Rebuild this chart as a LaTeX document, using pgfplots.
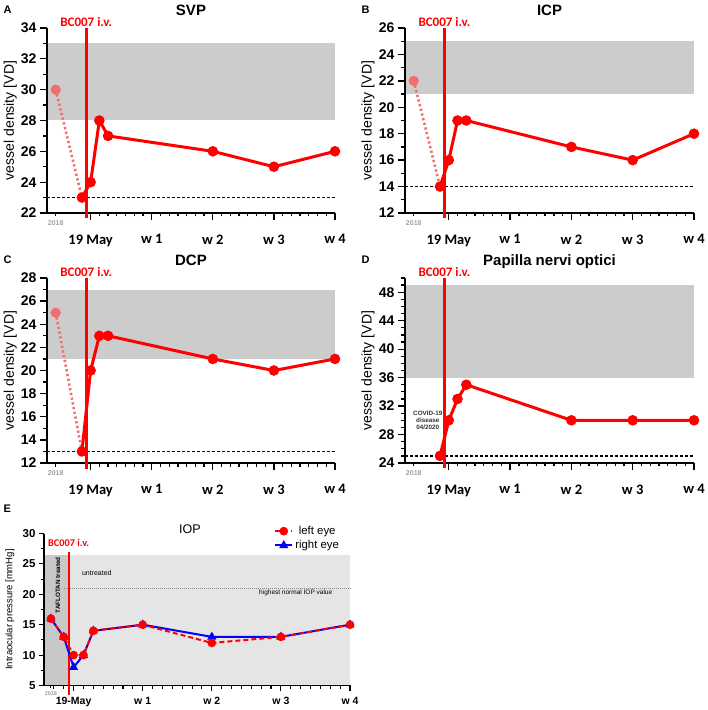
\documentclass[border=0pt]{standalone}
\usepackage{fontspec}
\setmainfont{Liberation Sans}
\newfontfamily\carlito{Carlito}
\usepackage{pgfplots}
\pgfplotsset{compat=1.18}
\definecolor{band}{RGB}{204,204,204}
\definecolor{lightband}{RGB}{229,229,229}
\definecolor{darkband}{RGB}{200,200,200}
\definecolor{oldred}{RGB}{240,110,110}
\definecolor{tickgray}{RGB}{160,160,160}

\tikzset{bclabel/.style={text=red, font=\carlito\bfseries\fontsize{13}{13}\selectfont, anchor=base, yshift=1.5pt},
  yrlabel/.style={text=tickgray, font=\bfseries\fontsize{7}{7}\selectfont, anchor=north, yshift=-4pt}}
\pgfplotsset{
  vdaxis/.style={
    scale only axis, height=185pt,
    xmin=-5, xmax=28,
    axis x line*=bottom, axis y line*=left,
    axis line style={line width=1.6pt, black},
    clip=false,
    tick align=outside, major tick length=7pt, minor tick length=3.5pt,
    tick style={black, line width=1.3pt},
    xtick={0,7,14,21,28},
    xticklabels={19 May,w 1,w 2,w 3,w 4},
    minor xtick={1,...,27},
    x tick label style={font=\carlito\bfseries\fontsize{14.5}{15}\selectfont, yshift=-11pt},
    y tick label style={font=\bfseries\fontsize{14}{14}\selectfont},
    /pgf/number format/assume math mode=true,
    ylabel={vessel density [VD]},
    ylabel style={font=\fontsize{14}{14}\selectfont, at={(axis description cs:-0.128,0.5)}, anchor=center},
    title style={font=\bfseries\fontsize{15}{15}\selectfont, at={(axis description cs:0.5,1)}, anchor=base, yshift=6pt},
  },
  dat/.style={red, line width=3pt, mark=*, mark size=3.7pt, mark options={solid}},
  old/.style={oldred, line width=2.6pt, dash pattern=on 2.2pt off 2.6pt, mark=*, mark size=3.7pt, mark indices={1}, mark options={solid, fill=oldred, draw=oldred}},
  ivline/.style={red, line width=2.8pt, forget plot},
  tk/.style={black, line width=1.3pt, forget plot, mark=none},
  tkE/.style={black, line width=1.1pt, forget plot, mark=none},
}
% tick marks drawn in data units:
% #1 ymin, #2 end y of major x ticks, #3 end y of minor x ticks,
% #4 major y ticks, #5 minor y ticks, #6 end x of major y ticks, #7 end x of minor y ticks
\newcommand{\vdticks}[7]{%
  \pgfplotsinvokeforeach{1,...,27}{\addplot[tk] coordinates {(##1,#1) (##1,#3)};}
  \pgfplotsinvokeforeach{0,7,14,21,28}{\addplot[tk] coordinates {(##1,#1) (##1,#2)};}
  \addplot[tk] coordinates {(-4,#1) (-4,#3)};
  \pgfplotsinvokeforeach{#4}{\addplot[tk] coordinates {(-5,##1) (#6,##1)};}
  \pgfplotsinvokeforeach{#5}{\addplot[tk] coordinates {(-5,##1) (#7,##1)};}
}

\begin{document}
\begin{tikzpicture}
\useasboundingbox (0,0) rectangle (708pt,710pt);

% panel letters
\node[anchor=base west, font=\bfseries\fontsize{11}{11}\selectfont, inner sep=0] at (3.5pt,696pt) {A};
\node[anchor=base west, font=\bfseries\fontsize{11}{11}\selectfont, inner sep=0] at (361.5pt,696pt) {B};
\node[anchor=base west, font=\bfseries\fontsize{11}{11}\selectfont, inner sep=0] at (3.5pt,446.7pt) {C};
\node[anchor=base west, font=\bfseries\fontsize{11}{11}\selectfont, inner sep=0] at (361.5pt,446.7pt) {D};
\node[anchor=base west, font=\bfseries\fontsize{11}{11}\selectfont, inner sep=0] at (3.5pt,197.3pt) {E};

% ---------------- A: SVP
\begin{axis}[vdaxis, at={(47pt,497pt)}, anchor=south west, width=288pt,
  ymin=22, ymax=34, ytick={22,24,...,34}, minor ytick={23,25,...,33}, title={SVP}]
\addplot[fill=band, draw=none, forget plot] coordinates {(-4.85,28) (28,28) (28,33) (-4.85,33)} -- cycle;
\addplot[black, line width=1.3pt, dash pattern=on 3pt off 2pt, forget plot] coordinates {(-5,23) (28,23)};
\vdticks{22}{21.546}{21.773}{22,24,...,34}{23,25,...,33}{-5.802}{-5.401}
\addplot[old] coordinates {(-4,30) (-1,23)};
\addplot[dat] coordinates {(-1,23) (0,24) (1,28) (2,27) (14,26) (21,25) (28,26)};
\addplot[ivline] coordinates {(-0.5,21.7) (-0.5,34)};
\node[bclabel] at (axis cs:-0.5,34) {BC007 i.v.};
\node[yrlabel] at (axis cs:-4,22) {2018};
\end{axis}

% ---------------- B: ICP
\begin{axis}[vdaxis, at={(405pt,497pt)}, anchor=south west, width=289pt,
  ymin=12, ymax=26, ytick={12,14,...,26}, minor ytick={13,15,...,25}, title={ICP}]
\addplot[fill=band, draw=none, forget plot] coordinates {(-4.85,21) (28,21) (28,25) (-4.85,25)} -- cycle;
\addplot[black, line width=1.3pt, dash pattern=on 3pt off 2pt, forget plot] coordinates {(-5,14) (28,14)};
\vdticks{12}{11.470}{11.735}{12,14,...,26}{13,15,...,25}{-5.799}{-5.400}
\addplot[old] coordinates {(-4,22) (-1,14)};
\addplot[dat] coordinates {(-1,14) (0,16) (1,19) (2,19) (14,17) (21,16) (28,18)};
\addplot[ivline] coordinates {(-0.5,11.62) (-0.5,26)};
\node[bclabel] at (axis cs:-0.5,26) {BC007 i.v.};
\node[yrlabel] at (axis cs:-4,12) {2018};
\end{axis}

% ---------------- C: DCP
\begin{axis}[vdaxis, at={(47pt,247pt)}, anchor=south west, width=288pt,
  ymin=12, ymax=28, ytick={12,14,...,28}, minor ytick={13,15,...,27}, title={DCP}]
\addplot[fill=band, draw=none, forget plot] coordinates {(-4.85,21) (28,21) (28,27) (-4.85,27)} -- cycle;
\addplot[black, line width=1.3pt, dash pattern=on 3pt off 2pt, forget plot] coordinates {(-5,13) (28,13)};
\vdticks{12}{11.395}{11.697}{12,14,...,28}{13,15,...,27}{-5.802}{-5.401}
\addplot[old] coordinates {(-4,25) (-1,13)};
\addplot[dat] coordinates {(-1,13) (0,20) (1,23) (2,23) (14,21) (21,20) (28,21)};
\addplot[ivline] coordinates {(-0.5,11.5) (-0.5,28)};
\node[bclabel] at (axis cs:-0.5,28) {BC007 i.v.};
\node[yrlabel] at (axis cs:-4,12) {2018};
\end{axis}

% ---------------- D: Papilla nervi optici
\begin{axis}[vdaxis, at={(405pt,247pt)}, anchor=south west, width=289pt,
  ymin=24, ymax=50, ytick={24,28,...,48}, minor ytick={24,...,50}, title={Papilla nervi optici}]
\addplot[fill=band, draw=none, forget plot] coordinates {(-4.85,36) (28,36) (28,49) (-4.85,49)} -- cycle;
\addplot[black, line width=1.3pt, dash pattern=on 3pt off 2pt, forget plot] coordinates {(-5,25) (28,25)};
\vdticks{24}{23.016}{23.508}{24,28,...,48}{25,26,27,29,30,31,33,34,35,37,38,39,41,42,43,45,46,47,49,50}{-5.799}{-5.400}
\addplot[dat] coordinates {(-1,25) (0,30) (1,33) (2,35) (14,30) (21,30) (28,30)};
\addplot[ivline] coordinates {(-0.5,23.3) (-0.5,50)};
\node[bclabel] at (axis cs:-0.5,50) {BC007 i.v.};
\node[yrlabel] at (axis cs:-4,24) {2018};
\node[align=center, font=\bfseries\fontsize{6.3}{7}\selectfont, text=black!80, inner sep=0] at (axis cs:-2.4,30) {COVID-19\\disease\\04/2020};
\end{axis}

% ---------------- E: IOP
\begin{axis}[at={(44pt,24.5pt)}, anchor=south west, scale only axis, width=306pt, height=152pt,
  xmin=-3, xmax=28, ymin=5, ymax=30,
  axis x line*=bottom, axis y line*=left, axis line style={line width=1.4pt, black},
  clip=false,
  tick align=outside, major tick length=5pt, minor tick length=3pt,
  tick style={black, line width=1.1pt},
  xtick={0,7,14,21,28}, xticklabels={19-May,w 1,w 2,w 3,w 4},
  minor xtick={-2,-1,1,2,3,4,5,6,8,9,10,11,12,13,15,16,17,18,19,20,22,23,24,25,26,27},
  x tick label style={font=\bfseries\fontsize{10.5}{11}\selectfont, yshift=-3pt},
  ytick={5,10,...,30}, minor ytick={7.5,12.5,...,27.5},
  y tick label style={font=\bfseries\fontsize{11.5}{11.5}\selectfont},
  /pgf/number format/assume math mode=true,
  ylabel={Intraocular pressure [mmHg]},
  ylabel style={font=\fontsize{9.5}{9.5}\selectfont, at={(axis description cs:-0.111,0.5)}, anchor=center},
  reverse legend,
  legend style={at={(axis description cs:0.742,1.075)}, anchor=north west, draw=none, fill=none, font=\fontsize{11.4}{12}\selectfont, row sep=0.5pt},
]
\addplot[fill=darkband, draw=none, forget plot] coordinates {(-2.9,5.15) (-0.5,5.15) (-0.5,26.4) (-2.9,26.4)} -- cycle;
\addplot[fill=lightband, draw=none, forget plot] coordinates {(-0.5,5.15) (28,5.15) (28,26.4) (-0.5,26.4)} -- cycle;
\addplot[black!45, line width=0.8pt, dash pattern=on 1pt off 1pt, forget plot] coordinates {(-1,21) (28,21)};
\pgfplotsinvokeforeach{-2.3,-2,-1,1,2,3,4,5,6,8,9,10,11,12,13,15,16,17,18,19,20,22,23,24,25,26,27}{\addplot[tkE] coordinates {(#1,5) (#1,4.507)};}
\pgfplotsinvokeforeach{0,7,14,21,28}{\addplot[tkE] coordinates {(#1,5) (#1,4.178)};}
\pgfplotsinvokeforeach{5,10,15,20,25,30}{\addplot[tkE] coordinates {(-3,#1) (-3.507,#1)};}
\pgfplotsinvokeforeach{7.5,12.5,17.5,22.5,27.5}{\addplot[tkE] coordinates {(-3,#1) (-3.304,#1)};}
\addplot[red, line width=2.3pt, forget plot] coordinates {(-0.5,3.4) (-0.5,27)};
\addplot[blue, line width=2pt, mark=triangle*, mark size=3.3pt] coordinates {(-2.3,16) (-1,13) (0,8) (1,10) (2,14) (7,15) (14,13) (21,13) (28,15)};
\addlegendentry{right eye}
\addplot[red, line width=2pt, dash pattern=on 5pt off 3pt, mark=*, mark size=3.3pt, mark options={solid}] coordinates {(-2.3,16) (-1,13) (0,10) (1,10) (2,14) (7,15) (14,12) (21,13) (28,15)};
\addlegendentry{left eye}
\node[text=red, font=\carlito\bfseries\fontsize{10.3}{10.3}\selectfont] at (axis cs:-0.5,28.4) {BC007 i.v.};
\node[font=\fontsize{12.5}{12.5}\selectfont] at (axis description cs:0.477,1.026) {IOP};
\node[font=\fontsize{7}{7}\selectfont] at (axis cs:2.35,23.5) {untreated};
\node[font=\fontsize{6.5}{6.5}\selectfont] at (axis cs:22.5,20.2) {highest normal IOP value};
\node[rotate=90, font=\bfseries\fontsize{6.3}{6.3}\selectfont] at (axis cs:-1.6,21.5) {TAFLOTAN treated};
\node[text=tickgray, font=\bfseries\fontsize{5.5}{5.5}\selectfont, anchor=north, yshift=-3pt] at (axis cs:-2.3,5) {2018};
\end{axis}
\end{tikzpicture}
\end{document}
